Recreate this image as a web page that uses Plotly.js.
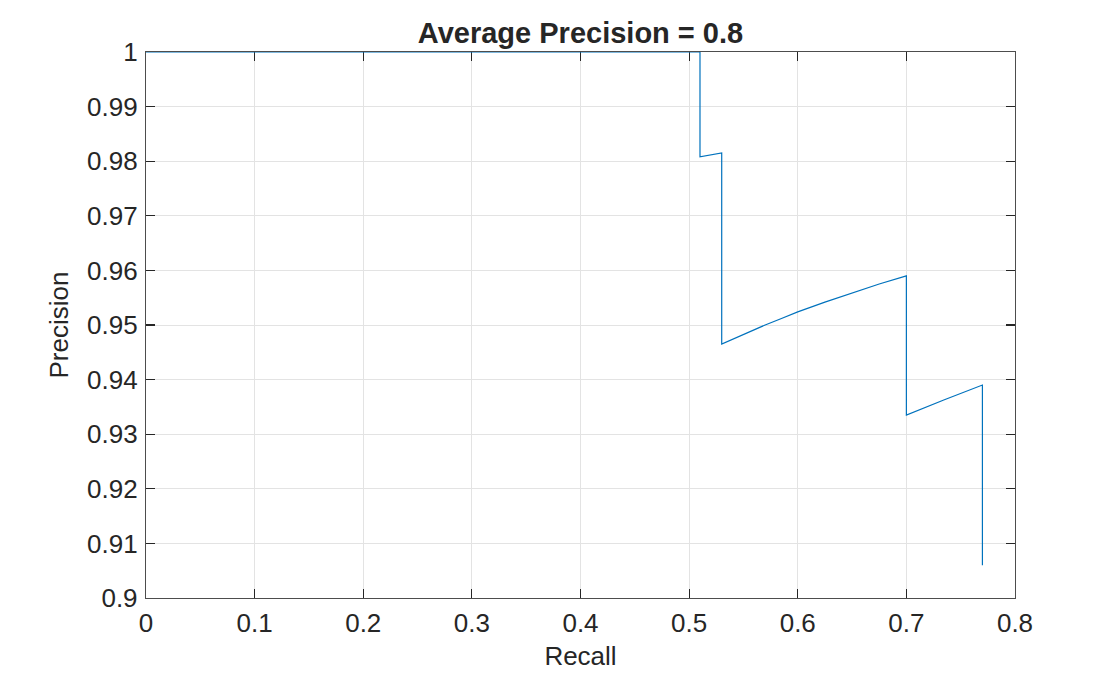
<!DOCTYPE html>
<html>
<head>
<meta charset="utf-8">
<script src="https://cdn.plot.ly/plotly-3.0.1.min.js"></script>
<style>
  html, body { margin: 0; padding: 0; background: #ffffff; }
  #chart { width: 1120px; height: 674px; }
</style>
</head>
<body>
<div id="chart"></div>
<script>
// precision / recall curve
var recall    = [0, 0.51, 0.51, 0.53, 0.53, 0.54, 0.555, 0.57, 0.585, 0.60, 0.625, 0.65, 0.675, 0.70, 0.70, 0.735, 0.77, 0.77];
var precision = [1, 1, 0.9808, 0.9815, 0.9465, 0.9474, 0.9487, 0.95, 0.9512, 0.9524, 0.9542, 0.9559, 0.9575, 0.959, 0.9335, 0.9363, 0.939, 0.906];

var xTickVals = [0, 0.1, 0.2, 0.3, 0.4, 0.5, 0.6, 0.7, 0.8];
var xTickText = ["0", "0.1", "0.2", "0.3", "0.4", "0.5", "0.6", "0.7", "0.8"];
var yTickVals = [0.9, 0.91, 0.92, 0.93, 0.94, 0.95, 0.96, 0.97, 0.98, 0.99, 1];
var yTickText = ["0.9", "0.91", "0.92", "0.93", "0.94", "0.95", "0.96", "0.97", "0.98", "0.99", "1"];

var font = "Arial, 'Liberation Sans', Helvetica, sans-serif";
var axisColor = "#4d4d4d";
var gridColor = "#e3e3e3";

var trace = {
	x: recall,
	y: precision,
	mode: 'lines',
	line: { color: '#0072BD', width: 1.2 },
	hoverinfo: 'skip'
};

var axisCommon = {
	showline: true,
	linecolor: axisColor,
	linewidth: 1.2,
	mirror: 'ticks',
	ticks: 'inside',
	ticklen: 9,
	tickwidth: 1.2,
	tickcolor: '#262626',
	showgrid: true,
	gridcolor: gridColor,
	gridwidth: 1,
	zeroline: false,
	tickfont: { family: font, size: 26, color: '#262626' },
	layer: 'below traces'
};

var layout = {
	width: 1120,
	height: 674,
	margin: { l: 146, r: 105, t: 52, b: 76 },
	paper_bgcolor: '#ffffff',
	plot_bgcolor: '#ffffff',
	showlegend: false,
	title: {
		text: '<b>Average Precision = 0.8</b>',
		font: { family: font, size: 29, color: '#262626' },
		xref: 'paper', x: 0.5, xanchor: 'center',
		y: 0.952, yanchor: 'middle'
	},
	xaxis: Object.assign({}, axisCommon, {
		range: [0, 0.8],
		tickvals: xTickVals,
		ticktext: xTickText,
		ticklabelstandoff: 2,
		title: { text: 'Recall', font: { family: font, size: 26, color: '#262626' }, standoff: 9 }
	}),
	yaxis: Object.assign({}, axisCommon, {
		range: [0.9, 1],
		tickvals: yTickVals,
		ticktext: yTickText,
		ticklabelstandoff: 2,
		title: { text: 'Precision', font: { family: font, size: 26, color: '#262626' }, standoff: 10 }
	})
};

Plotly.newPlot('chart', [trace], layout, { staticPlot: true, displayModeBar: false });
</script>
</body>
</html>
